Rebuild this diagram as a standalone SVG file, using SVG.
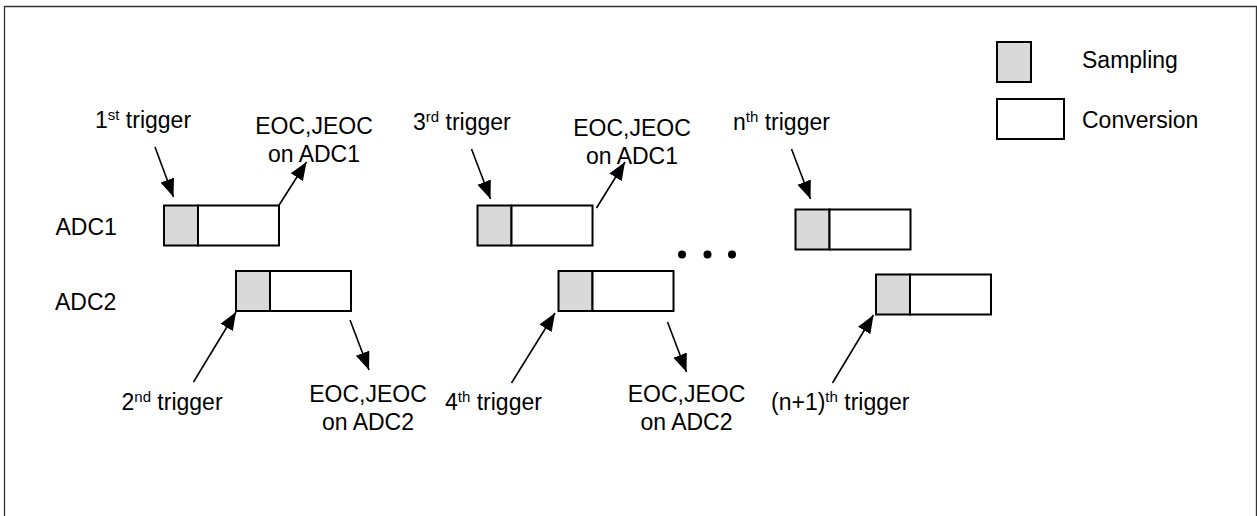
<svg xmlns="http://www.w3.org/2000/svg" width="1257" height="516" viewBox="0 0 1257 516">
<style>
text{font-family:"Liberation Sans",Arial,sans-serif;font-size:23px;fill:#000}
.sup{font-size:15px}
.mid{text-anchor:middle}
.samp{fill:#d9d9d9;stroke:#000;stroke-width:2}
.conv{fill:#fff;stroke:#000;stroke-width:2}
.arr{stroke:#000;stroke-width:1.6;fill:none;marker-end:url(#ah)}
.frame{fill:none;stroke:#333;stroke-width:1.3}
</style>
<defs>
<marker id="ah" markerUnits="userSpaceOnUse" markerWidth="19" markerHeight="16" refX="18" refY="8" orient="auto">
<path d="M0,0.8 L18,8 L0,15.2 z" fill="#000"/>
</marker>
</defs>
<rect x="0" y="0" width="1257" height="516" fill="#fff"/>
<path class="frame" d="M4.5,516 V6.5 H1256.5 V516"/>

<g id="legend">
<rect class="samp" x="997" y="42" width="34" height="40"/>
<text x="1082" y="68">Sampling</text>
<rect class="conv" x="997" y="99" width="67" height="40"/>
<text x="1082" y="128">Conversion</text>
</g>

<g id="row-labels">
<text x="55.5" y="235">ADC1</text>
<text x="55" y="310">ADC2</text>
</g>

<g id="adc1-conv1"><rect class="samp" x="164" y="205.5" width="34" height="40"/><rect class="conv" x="198" y="205.5" width="81" height="40"/></g>
<g id="adc1-conv3"><rect class="samp" x="477.5" y="205.5" width="34" height="40"/><rect class="conv" x="511.5" y="205.5" width="81" height="40"/></g>
<g id="adc1-convn"><rect class="samp" x="795.5" y="209.5" width="34" height="40"/><rect class="conv" x="829.5" y="209.5" width="81" height="40"/></g>
<g id="adc2-conv2"><rect class="samp" x="236" y="271" width="34" height="40"/><rect class="conv" x="270" y="271" width="81" height="40"/></g>
<g id="adc2-conv4"><rect class="samp" x="558.5" y="271" width="34" height="40"/><rect class="conv" x="592.5" y="271" width="81" height="40"/></g>
<g id="adc2-convn1"><rect class="samp" x="876" y="274.5" width="34" height="40"/><rect class="conv" x="910" y="274.5" width="81" height="40"/></g>

<g id="ellipsis">
<circle cx="682" cy="254.5" r="4"/>
<circle cx="707.5" cy="254.5" r="4"/>
<circle cx="732" cy="254.5" r="4"/>
</g>

<g id="labels">
<text x="95" y="128">1<tspan class="sup" dy="-8">st</tspan><tspan dy="8"> trigger</tspan></text>
<text x="413" y="130">3<tspan class="sup" dy="-8">rd</tspan><tspan dy="8"> trigger</tspan></text>
<text x="733" y="130">n<tspan class="sup" dy="-8">th</tspan><tspan dy="8"> trigger</tspan></text>
<text x="121.5" y="410">2<tspan class="sup" dy="-8">nd</tspan><tspan dy="8"> trigger</tspan></text>
<text x="445" y="410">4<tspan class="sup" dy="-8">th</tspan><tspan dy="8"> trigger</tspan></text>
<text x="771" y="410">(n+1)<tspan class="sup" dy="-8">th</tspan><tspan dy="8"> trigger</tspan></text>
<text class="mid" x="314" y="134">EOC,JEOC</text>
<text class="mid" x="314" y="162">on ADC1</text>
<text class="mid" x="632" y="136">EOC,JEOC</text>
<text class="mid" x="632" y="164">on ADC1</text>
<text class="mid" x="368" y="402">EOC,JEOC</text>
<text class="mid" x="368" y="430">on ADC2</text>
<text class="mid" x="686.5" y="402">EOC,JEOC</text>
<text class="mid" x="686.5" y="430">on ADC2</text>
</g>

<g id="connectors">
<line class="arr" x1="155" y1="147" x2="173.5" y2="197"/>
<line class="arr" x1="278.5" y1="206" x2="306.5" y2="162"/>
<line class="arr" x1="471.5" y1="149" x2="490.5" y2="199"/>
<line class="arr" x1="596.5" y1="208" x2="625" y2="162"/>
<line class="arr" x1="791.5" y1="149" x2="810.5" y2="199"/>
<line class="arr" x1="193.5" y1="382" x2="236" y2="312"/>
<line class="arr" x1="350" y1="320" x2="369" y2="370"/>
<line class="arr" x1="511.5" y1="383" x2="555" y2="313"/>
<line class="arr" x1="667.5" y1="322" x2="686.5" y2="372"/>
<line class="arr" x1="832.5" y1="383" x2="873.5" y2="315"/>
</g>
</svg>
